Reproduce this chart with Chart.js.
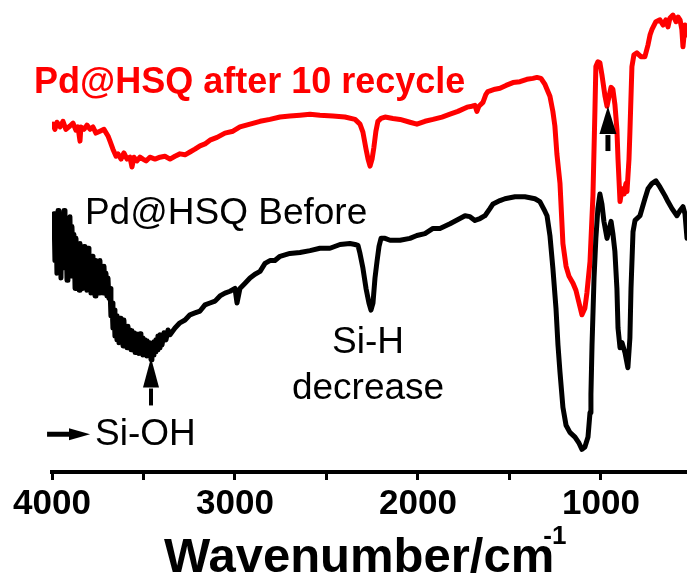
<!DOCTYPE html>
<html><head><meta charset="utf-8">
<script src="https://cdn.jsdelivr.net/npm/chart.js@4.4.1/dist/chart.umd.min.js"></script>
<style>html,body{margin:0;padding:0;background:#fff;overflow:hidden}#wrap{width:687px;height:579px}</style>
</head><body><div id="wrap"><canvas id="c" width="687" height="579"></canvas></div>
<script>
// ---- data (wavenumber in cm^-1, signal in arbitrary transmittance units) ----
const seriesNames = ['Pd@HSQ Before', 'Pd@HSQ after 10 recycle'];
const beforeWavenumber = [3989,3984,3978,3973,3967,3962,3956,3951,3945,3940,3934,3929,3924,3918,3913,3907,3902,3896,3891,3885,3880,3874,3869,3863,3858,3852,
  3847,3842,3836,3831,3825,3820,3814,3809,3803,3798,3792,3787,3781,3776,3771,3765,3760,3754,3749,3743,3738,3732,3727,3721,3716,3710,3705,3700,3694,3689,3683,
  3678,3672,3667,3661,3656,3650,3645,3639,3634,3628,3623,3618,3612,3607,3601,3596,3590,3585,3579,3574,3568,3563,3557,3552,3546,3541,3536,3530,3525,3519,3514,3508,3503,3497,3492,3486,3481,3475,3470,3465,3459,3454,3448,3443,3437,3432,3426,3421,3415,3410,
  3399,3388,3377,3366,3355,
  3328,3301,3273,3246,3219,3191,3164,3137,3109,3082,3055,3027,3000,2989,2973,2945,2918,2891,2863,2836,2809,2782,2754,2700,2645,2590,2536,2481,2426,2372,2344,2328,2317,2301,2284,2268,2257,2246,2235,2224,2213,2202,2180,2153,2098,2044,2006,1962,1918,1880,1825,1771,1743,1716,1689,1661,1634,1607,1590,1552,1525,1470,1416,1388,1361,1334,1306,1295,1279,1263,1246,1235,1224,1208,1191,1170,1142,1120,1104,1088,1071,1060,1055,1049,1038,1028,1017,1006,995,984,967,957,945,935,924,913,907,896,885,869,853,842,836,825,814,787,760,743,722,700,678,650,634,612,585,568,552,541,530];
const beforeSignal = [54.7,44.8,54.1,42.1,55.4,43.6,53.3,41.1,54.7,47.4,55.4,43.2,52.6,40.6,49.5,44.2,54.1,41.5,52.0,45.7,50.3,38.9,49.5,43.6,47.4,38.5,
  48.4,40.0,46.3,38.9,47.8,41.1,45.7,38.5,47.4,40.4,44.8,37.9,45.7,40.0,44.2,37.3,44.8,38.9,43.6,37.9,44.8,39.4,43.2,37.9,43.6,38.9,42.1,37.3,41.1,36.8,38.9,
  33.1,35.8,30.5,34.3,28.8,33.1,28.0,32.2,27.4,32.6,28.4,31.6,26.7,32.2,27.4,30.5,26.3,30.9,27.2,30.1,25.9,29.9,26.3,29.5,25.3,29.3,25.9,28.8,25.1,29.3,25.7,28.4,24.8,28.0,25.5,27.8,24.6,27.4,25.1,27.4,23.8,27.2,24.8,27.6,25.5,28.0,25.9,28.8,26.3,29.1,
  26.9,29.5,28.0,30.1,29.1,
  30.5,31.6,32.2,33.3,33.7,34.1,35.4,35.8,36.2,37.3,37.9,38.3,38.9,35.8,38.9,40.0,41.1,41.9,42.5,44.2,44.8,44.8,45.7,46.3,46.5,46.9,47.4,47.4,48.2,48.4,48.2,48.0,46.3,43.2,38.9,35.8,34.3,35.8,41.1,44.6,47.8,49.5,49.5,49.1,49.1,49.5,50.1,50.5,51.6,51.6,52.6,53.7,54.3,54.1,53.3,53.7,54.3,55.8,56.8,57.5,57.9,58.3,58.3,58.1,57.9,57.3,55.2,54.3,50.1,43.2,34.7,26.9,21.1,13.7,9.9,8.4,7.4,6.1,4.8,5.3,7.4,12.6,16.4,26.9,41.1,49.5,55.8,58.9,56.8,53.1,49.5,51.2,53.1,50.5,46.7,38.9,30.5,26.3,27.4,25.3,22.1,28.4,38.9,50.9,53.3,54.3,57.9,60.0,61.1,61.7,60.4,58.5,57.3,55.8,54.3,55.4,56.2,54.7,49.5];
const afterWavenumber = [3995,3984,3973,3956,3940,3924,3902,3885,3869,3858,3847,3842,3825,3809,3792,3776,3760,3738,3716,3694,3683,3667,3650,3639,3623,3607,3590,3574,3563,3552,3536,3519,3503,3486,3465,3437,3410,3383,3355,3328,3301,3273,3246,3219,3191,3164,3137,3098,3055,3011,2973,2918,2863,2809,2754,2700,2645,2590,2536,2465,2399,2344,2317,2301,2284,2273,2262,2251,2241,2230,2219,2202,2180,2137,2098,2044,2006,1962,1918,1869,1825,1782,1732,1705,1689,1678,1667,1645,1629,1618,1579,1552,1519,1481,1443,1405,1372,1350,1328,1306,1290,1279,1263,1252,1241,1224,1208,1191,1175,1153,1137,1120,1104,1088,1077,1060,1044,1033,1028,1017,1006,995,978,967,957,945,935,924,913,907,896,885,874,864,858,847,842,831,820,804,782,760,743,732,722,700,678,661,645,634,623,607,590,579,568,558,552,541,530];
const afterSignal = [73.7,72.6,74.1,73.1,74.3,72.6,73.3,73.9,72.4,73.1,70.1,73.1,72.6,73.5,72.6,73.1,71.8,72.2,72.6,71.2,70.1,68.4,66.9,67.4,66.3,67.6,66.3,66.7,64.6,66.7,65.9,66.7,66.3,65.9,66.7,66.3,66.7,66.9,66.3,66.9,67.4,67.2,67.8,68.4,69.1,69.5,70.3,70.9,71.8,72.2,73.1,73.7,74.3,74.7,75.2,75.4,75.6,75.8,75.6,75.4,75.2,74.7,73.7,72.0,68.4,66.3,64.8,66.3,68.8,72.2,74.3,74.9,75.2,74.9,74.7,74.1,73.7,74.3,74.7,75.2,75.8,76.4,77.3,77.5,77.7,76.4,77.5,78.3,80.0,80.6,81.1,81.3,81.9,82.5,82.7,83.2,83.4,83.6,83.4,82.1,80.6,79.6,76.4,73.3,67.4,61.1,48.4,43.6,41.5,40.0,38.5,35.8,33.3,34.7,37.9,44.6,58.5,76.8,85.9,86.9,86.7,84.2,79.6,77.5,79.4,81.5,81.1,77.9,72.6,66.3,57.3,60.0,58.9,61.1,59.4,66.3,72.0,85.9,88.4,88.8,88.0,88.0,90.5,92.6,93.7,95.4,95.8,94.7,95.8,94.3,96.2,96.8,95.4,96.4,95.8,93.7,90.1,94.7,92.6];
const xTickValues = [4000, 3500, 3000, 2500, 2000, 1500, 1000];
const xTickLabels = ['4000', '', '3000', '', '2000', '', '1000'];
const xAxisTitle = 'Wavenumber/cm';
const xAxisTitleSup = '-1';
const peakLabels = ['Si-H', 'decrease', 'Si-OH'];

const FONT = "'Liberation Sans', Arial, Helvetica, sans-serif";
const toPoints = (xs, ys) => xs.map((v, i) => ({x: v, y: ys[i]}));

function arrowUp(ctx, x, yTail, yBase, yTip, half, w) {
  ctx.lineWidth = w; ctx.beginPath(); ctx.moveTo(x, yTail); ctx.lineTo(x, yBase + 1); ctx.stroke();
  ctx.beginPath(); ctx.moveTo(x, yTip); ctx.lineTo(x - half, yBase); ctx.lineTo(x + half, yBase); ctx.closePath(); ctx.fill();
}

const annot = {
  id: 'annot',
  afterDatasetsDraw(chart) {
    const {ctx, chartArea} = chart;
    const X = v => chart.scales.x.getPixelForValue(v);
    const Y = v => chart.scales.y.getPixelForValue(v);
    ctx.save();
    ctx.textBaseline = 'alphabetic';
    ctx.fillStyle = '#ff0000';
    ctx.font = 'bold 36px ' + FONT; ctx.textAlign = 'left';
    ctx.fillText(seriesNames[1], X(4098), Y(80.4));
    ctx.fillStyle = '#000'; ctx.strokeStyle = '#000';
    ctx.font = '37px ' + FONT;
    ctx.fillText(seriesNames[0], X(3820), Y(52.6));
    ctx.textAlign = 'center';
    ctx.fillText(peakLabels[0], X(2273), Y(25.3));
    ctx.fillText(peakLabels[1], X(2273), Y(15.4));
    ctx.textAlign = 'left';
    ctx.fillText(peakLabels[2], X(3765), Y(5.7));
    arrowUp(ctx, X(3459), Y(14.1), Y(17.9), Y(24.2), 8, 4);
    arrowUp(ctx, X(962), Y(68.0), Y(71.6), Y(77.5), 8.5, 5);
    const ya = Y(8.0), xa0 = X(4027), xb = X(3907), xt = X(3792);
    ctx.lineWidth = 5; ctx.beginPath(); ctx.moveTo(xa0, ya); ctx.lineTo(xb + 1, ya); ctx.stroke();
    ctx.beginPath(); ctx.moveTo(xt, ya); ctx.lineTo(xb, ya - 6); ctx.lineTo(xb, ya + 6); ctx.closePath(); ctx.fill();
    ctx.font = 'bold 49px ' + FONT;
    const tx = X(3388), ty = chartArea.bottom + 100;
    ctx.fillText(xAxisTitle, tx, ty);
    const tw = ctx.measureText(xAxisTitle).width;
    ctx.font = 'bold 26px ' + FONT;
    ctx.fillText(xAxisTitleSup, tx + tw - 11, ty - 28);
    ctx.restore();
  }
};

new Chart(document.getElementById('c'), {
  type: 'line',
  data: {
    datasets: [
      {label: seriesNames[0], data: toPoints(beforeWavenumber, beforeSignal), borderColor: '#000000', borderWidth: 5, pointRadius: 0, tension: 0, borderJoinStyle: 'round', borderCapStyle: 'round', fill: false},
      {label: seriesNames[1], data: toPoints(afterWavenumber, afterSignal), borderColor: '#ff0000', borderWidth: 5, pointRadius: 0, tension: 0, borderJoinStyle: 'round', borderCapStyle: 'round', fill: false}
    ]
  },
  options: {
    responsive: false, animation: false, devicePixelRatio: 1,
    layout: {padding: {left: 52, right: 0, top: 0, bottom: 51}},
    plugins: {legend: {display: false}, tooltip: {enabled: false}},
    scales: {
      x: {
        type: 'linear', reverse: true, min: 530, max: 4000,
        afterBuildTicks: s => { s.ticks = xTickValues.map(v => ({value: v})); },
        ticks: {
          autoSkip: false, maxRotation: 0, padding: 3, color: '#000',
          font: {family: FONT, size: 35, weight: 'bold'},
          callback: (v) => { const i = xTickValues.indexOf(v); return i >= 0 ? xTickLabels[i] : ''; }
        },
        grid: {display: true, drawOnChartArea: false, drawTicks: true, tickLength: 8, tickWidth: 3, tickColor: '#000'},
        border: {display: true, color: '#000', width: 4}
      },
      y: {type: 'linear', min: 0, max: 100, display: false}
    }
  },
  plugins: [annot]
});
</script>
</body></html>
